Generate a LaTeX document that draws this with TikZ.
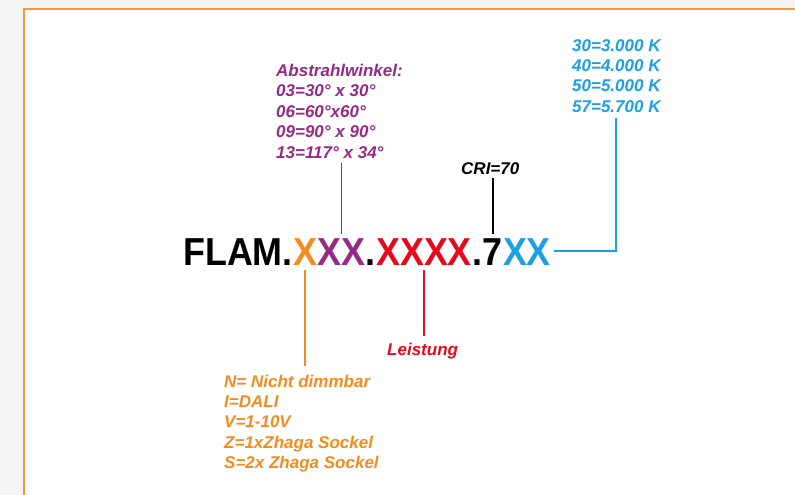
\documentclass[tikz,border=0pt]{standalone}
\usepackage{fontspec}
\usepackage{tikz}
\usetikzlibrary{positioning}
\newfontfamily\flamfont{Liberation Sans}[FakeStretch=0.92]
\newfontfamily\notefont{Liberation Sans}
\definecolor{flamorange}{HTML}{F28C1E}
\definecolor{flampurple}{HTML}{962A85}
\definecolor{flamred}{HTML}{E30B1C}
\definecolor{flamblue}{HTML}{1D9FE2}
\definecolor{panelorange}{HTML}{F39A35}
\definecolor{bggray}{HTML}{F4F4F4}

\begin{document}
\begin{tikzpicture}[x=1pt,y=-1pt,
segment/.style={font=\flamfont\bfseries\fontsize{39}{39}\selectfont,
inner xsep=0pt, inner ysep=3pt, text height=28pt, text depth=0pt,
anchor=base west},
note/.style={font=\notefont\bfseries\itshape\fontsize{17}{20.4}\selectfont,
align=left, inner sep=0pt},
link/.style={line width=1.8pt}]
\useasboundingbox (0,0) rectangle (795,495);
\fill[bggray] (0,0) rectangle (795,495);
\fill[white] (23.5,9.5) rectangle (795,495);
\draw[draw=panelorange, line width=2pt] (23.5,495) -- (23.5,9.5) -- (795,9.5);

\node[segment] (flam) at (183,265) {FLAM.};
\node[segment, text=flamorange] (dim) at (flam.base east) {X};
\node[segment, text=flampurple] (angle) at (dim.base east) {XX};
\node[segment] (dot1) at (angle.base east) {.};
\node[segment, text=flamred] (power) at (dot1.base east) {XXXX};
\node[segment] (dot2) at (power.base east) {.};
\node[segment] (cri) at (dot2.base east) {7};
\node[segment, text=flamblue] (cct) at (cri.base east) {XX};

\node[note, text=flampurple, anchor=north west] (winkel) at (276,64)
{Abstrahlwinkel:\\03=30° x 30°\\06=60°x60°\\09=90° x 90°\\13=117° x 34°};
\node[note, anchor=base west] (crilabel) at (461,174) {CRI=70};
\node[note, text=flamblue, anchor=north west] (kelvin) at (572,39)
{30=3.000 K\\40=4.000 K\\50=5.000 K\\57=5.700 K};
\node[note, text=flamred, anchor=base west] (leistung) at (387,355) {Leistung};
\node[note, text=flamorange, anchor=north west] (dimmung) at (224,374.5)
{N= Nicht dimmbar\\I=DALI\\V=1-10V\\Z=1xZhaga Sockel\\S=2x Zhaga Sockel};

\draw[link, flampurple, shorten >=5pt] (angle.north) -- (angle.north |- winkel.south);
\draw[link, shorten >=4pt] (cri.north) -- (cri.north |- crilabel.south);
\draw[link, flamblue, shorten <=3pt, shorten >=5pt] (cct.east) -- (cct.east -| kelvin.south) -- (kelvin.south);
\draw[link, flamorange, shorten <=2pt, shorten >=9pt] (dim.south) -- (dim.south |- dimmung.north);
\draw[link, flamred, shorten <=2pt, shorten >=6pt] (power.south) -- (power.south |- leistung.north);
\end{tikzpicture}
\end{document}
